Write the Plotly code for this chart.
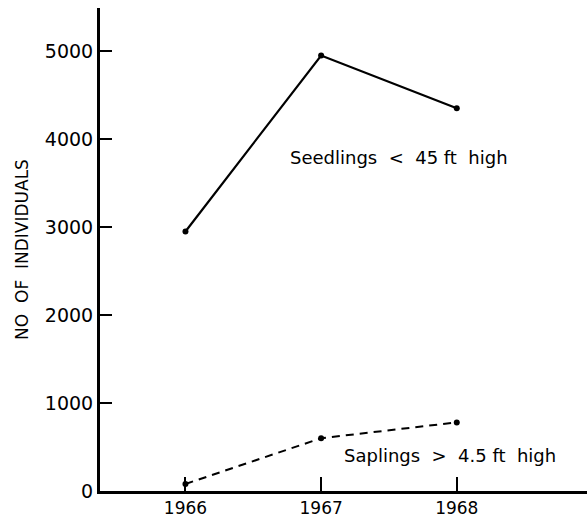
import plotly.graph_objs as go


years = [1966, 1967, 1968]
seedlings = [2950, 4950, 4350]
saplings = [80, 600, 780]

y_ticks = [0, 1000, 2000, 3000, 4000, 5000]

FONT = 'DejaVu Sans'


def plot():
    fig = go.Figure(
        data=[
            go.Scatter(
                x=years,
                y=seedlings,
                mode='lines+markers',
                line=dict(
                    color='black',
                    width=2.2),
                marker=dict(
                    color='black',
                    size=6),
            ),
            go.Scatter(
                x=years,
                y=saplings,
                mode='lines+markers',
                line=dict(
                    color='black',
                    width=2,
                    dash='8px,6px'),
                marker=dict(
                    color='black',
                    size=6),
            ),
        ],
        layout=go.Layout(
            width=587,
            height=518,
            showlegend=False,
            paper_bgcolor='white',
            plot_bgcolor='white',
            margin=dict(l=100, r=0, t=8, b=27),
            font=dict(family=FONT, color='black', size=16),
            xaxis=dict(
                range=[1965.37, 1968.96],
                tickvals=years,
                ticktext=[str(y) for y in years],
                ticks='inside',
                ticklen=14,
                tickwidth=1.5,
                tickcolor='black',
                showline=True,
                linecolor='black',
                linewidth=3,
                showgrid=False,
                zeroline=False,
                tickfont=dict(size=17),
                ticklabelstandoff=0,
            ),
            yaxis=dict(
                range=[0, 5490],
                tickvals=y_ticks,
                ticks='inside',
                ticklen=12,
                tickwidth=1.5,
                tickcolor='black',
                showline=True,
                linecolor='black',
                linewidth=3,
                showgrid=False,
                zeroline=False,
                tickfont=dict(size=19),
                ticklabelstandoff=0,
                title=dict(
                    text='NO  OF  INDIVIDUALS',
                    font=dict(size=17),
                    standoff=12,
                ),
            ),
            annotations=[
                dict(
                    x=1967.574, y=3795,
                    text='Seedlings  <  45 ft  high',
                    showarrow=False,
                    font=dict(size=18),
                ),
                dict(
                    x=1967.95, y=398,
                    text='Saplings  >  4.5 ft  high',
                    showarrow=False,
                    font=dict(size=18),
                ),
            ],
        ),
    )
    return fig


fig = plot()
# the page's default body margin would push the figure off the window
fig.write_html(
    'out.html',
    config=dict(displayModeBar=False),
    post_script="document.body.style.margin='0';",
)
